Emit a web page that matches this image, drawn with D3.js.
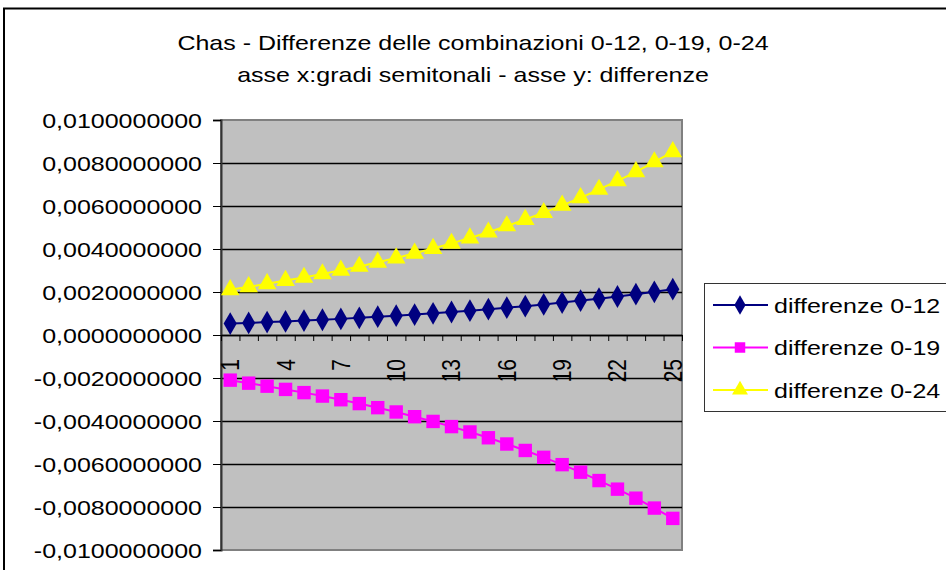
<!DOCTYPE html>
<html>
<head>
<meta charset="utf-8">
<script src="https://cdn.jsdelivr.net/npm/d3@7"></script>
<style>
  body { margin: 0; background: #fff; }
  svg { display: block; font-family: "Liberation Sans", Arial, sans-serif; }
</style>
</head>
<body>
<div id="chart"></div>
<script>
// values

var categories = [1, 2, 3, 4, 5, 6, 7, 8, 9, 10, 11, 12, 13, 14, 15, 16, 17, 18, 19, 20, 21, 22, 23, 24, 25];
var labelCats = [1, 4, 7, 10, 13, 16, 19, 22, 25];

var diff012 = [0.00053, 0.00056, 0.00060, 0.00063, 0.00067, 0.00071, 0.00075, 0.00080, 0.00085, 0.00090,
  0.00095, 0.00101, 0.00107, 0.00113, 0.00120, 0.00127, 0.00134, 0.00142, 0.00151, 0.00160,
  0.00169, 0.00179, 0.00190, 0.00201, 0.00213];
var diff019 = [-0.00210, -0.00224, -0.00238, -0.00253, -0.00268, -0.00284, -0.00301, -0.00319, -0.00338, -0.00358,
  -0.00380, -0.00402, -0.00426, -0.00451, -0.00478, -0.00507, -0.00537, -0.00569, -0.00603, -0.00638,
  -0.00677, -0.00717, -0.00759, -0.00805, -0.00853];
var diff024 = [0.00210, 0.00224, 0.00238, 0.00253, 0.00268, 0.00284, 0.00301, 0.00319, 0.00338, 0.00358,
  0.00380, 0.00402, 0.00426, 0.00451, 0.00478, 0.00507, 0.00537, 0.00569, 0.00603, 0.00638,
  0.00677, 0.00717, 0.00759, 0.00805, 0.00852];

var seriesNames = ["differenze 0-12", "differenze 0-19", "differenze 0-24"];
var seriesColors = ["#000080", "#ff00ff", "#ffff00"];
var seriesMarkers = [d3.symbolDiamond, d3.symbolSquare, d3.symbolTriangle];

var yTicks = [0.01, 0.008, 0.006, 0.004, 0.002, 0, -0.002, -0.004, -0.006, -0.008, -0.01];
var titleLines = ["Chas - Differenze delle combinazioni 0-12, 0-19, 0-24",
  "asse x:gradi semitonali - asse y: differenze"];

var series = [diff012, diff019, diff024].map(function(vals, i) {
  return { name: seriesNames[i], color: seriesColors[i], marker: seriesMarkers[i], values: vals };
});

// the text in the picture is stretched sideways a bit
var SX = 1.19;
var W = 946, H = 570;
var plot = { left: 221, right: 682, top: 120, bottom: 550 };

var svg = d3.select("#chart").append("svg").attr("width", W).attr("height", H);

// outer chart frame, cut off at the right and bottom
svg.append("rect")
  .attr("x", 4).attr("y", 8.5).attr("width", 980).attr("height", 620)
  .attr("fill", "#fff").attr("stroke", "#000").attr("stroke-width", 2);

// TITLE //
svg.selectAll(".title").data(titleLines).enter().append("text")
  .attr("class", "title")
  .attr("transform", function(d, i) { return "translate(473," + (50 + i * 32) + ") scale(" + SX + ",1)"; })
  .attr("text-anchor", "middle")
  .attr("font-size", 21)
  .attr("fill", "#000")
  .text(function(d) { return d; });

// SCALES //
var x = d3.scaleBand().domain(categories).range([plot.left, plot.right]);
var xEdge = d3.scaleLinear().domain([0, categories.length]).range([plot.left, plot.right]);
var y = d3.scaleLinear().domain([-0.01, 0.01]).range([plot.bottom, plot.top]);

var itLocale = d3.formatLocale({ decimal: ",", thousands: ".", grouping: [3], currency: ["", ""], minus: "-" });
var fmt = itLocale.format(".10f");

// plot background
svg.append("rect")
  .attr("x", plot.left).attr("y", plot.top)
  .attr("width", plot.right - plot.left).attr("height", plot.bottom - plot.top)
  .attr("fill", "#c0c0c0").attr("stroke", "#808080").attr("stroke-width", 2);

// gridlines
svg.append("g").selectAll("line")
  .data(yTicks.filter(function(d) { return d != 0.01 && d != -0.01; }))
  .enter().append("line")
  .attr("x1", plot.left).attr("x2", plot.right)
  .attr("y1", function(d) { return Math.round(y(d)) + 0.5; })
  .attr("y2", function(d) { return Math.round(y(d)) + 0.5; })
  .attr("stroke", "#000").attr("stroke-width", 1.3);

// Y AXIS //
var yAxis = svg.append("g")
  .attr("transform", "translate(" + plot.left + ",0)")
  .call(d3.axisLeft(y).tickValues(yTicks).tickFormat(fmt).tickSize(8).tickPadding(0));
yAxis.select(".domain").attr("stroke", "#333").attr("stroke-width", 2);
yAxis.selectAll(".tick line").attr("stroke", "#000");
yAxis.selectAll(".tick text")
  .attr("x", null).attr("dy", null)
  .attr("transform", "translate(-19,0) scale(" + SX + ",1)")
  .attr("dy", "0.36em")
  .attr("font-size", 21).attr("font-family", null).attr("fill", "#000");

// X AXIS, sitting on zero //
var xAxis = svg.append("g")
  .attr("transform", "translate(0," + Math.round(y(0)) + ")")
  .call(d3.axisBottom(xEdge).ticks(categories.length).tickFormat("").tickSize(6).tickSizeOuter(0));
xAxis.select(".domain").attr("stroke", "#000").attr("stroke-width", 1.5);
xAxis.selectAll(".tick line").attr("stroke", "#000");

svg.append("g").selectAll("text").data(labelCats).enter().append("text")
  .attr("transform", function(d) {
    return "translate(" + (x(d) + x.bandwidth() / 2) + "," + (y(0) + 24) + ") scale(" + SX + ",1) rotate(-90)";
  })
  .attr("dy", "0.36em")
  .attr("text-anchor", "end")
  .attr("font-size", 21)
  .attr("fill", "#000")
  .text(function(d) { return d; });

// SERIES //
var line = d3.line()
  .x(function(d, i) { return x(categories[i]) + x.bandwidth() / 2; })
  .y(function(d) { return y(d); });

var markerSize = [150, 180, 150];

var sg = svg.selectAll(".series").data(series).enter().append("g").attr("class", "series");
sg.append("path")
  .attr("d", function(d) { return line(d.values); })
  .attr("fill", "none")
  .attr("stroke", function(d) { return d.color; })
  .attr("stroke-width", 2);

sg.each(function(s, si) {
  d3.select(this).selectAll(".pt").data(s.values).enter().append("path")
    .attr("class", "pt")
    .attr("transform", function(d, i) {
      return "translate(" + (x(categories[i]) + x.bandwidth() / 2) + "," + y(d) + ")";
    })
    .attr("d", d3.symbol().type(s.marker).size(markerSize[si]))
    .attr("fill", s.color);
});

// LEGEND //
var legend = svg.append("g");
legend.append("rect")
  .attr("x", 704.5).attr("y", 283.5).attr("width", 300).attr("height", 128)
  .attr("fill", "#fff").attr("stroke", "#333").attr("stroke-width", 1);

var li = legend.selectAll(".item").data(series).enter().append("g")
  .attr("class", "item")
  .attr("transform", function(d, i) { return "translate(0," + (305 + i * 42.5) + ")"; });
li.append("line")
  .attr("x1", 713).attr("x2", 768)
  .attr("stroke", function(d) { return d.color; })
  .attr("stroke-width", 2);
li.append("path")
  .attr("transform", "translate(740,0)")
  .attr("d", function(d) { return d3.symbol().type(d.marker).size(110)(); })
  .attr("fill", function(d) { return d.color; });
li.append("text")
  .attr("transform", "translate(774,0) scale(" + SX + ",1)")
  .attr("dy", "0.36em")
  .attr("font-size", 21)
  .attr("fill", "#000")
  .text(function(d) { return d.name; });
</script>
</body>
</html>
